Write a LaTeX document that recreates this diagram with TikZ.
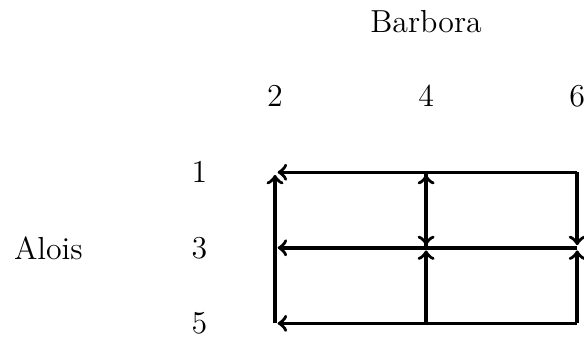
\documentclass[tikz,border=0pt,12pt]{standalone}
\usepackage{amsmath}
\usepackage{tikz}
\usetikzlibrary{arrows}

\begin{document}
\begin{tikzpicture}[scale=1]
\useasboundingbox (-1.64,-2.19) rectangle (6.09,2.28);
\node (barbora) at (4,2) {Barbora};
\node (alois) at (-1,-1) {Alois};
\foreach \c in {2,4,6}{
\node (c\c) at (\c,1) {\(\c\)};
}
\foreach \r/\y in {1/0,3/-1,5/-2}{
\node (r\r) at (1,\y) {\(\r\)};
\foreach \c in {2,4,6}{
\coordinate (p\c\r) at (\c,\y);
}
}
\tikzset{move/.style={->,line width=1.3pt,shorten >=1pt}}
\draw[move] (p61) -- (p21);
\draw[move] (p63) -- (p23);
\draw[move] (p65) -- (p25);
\draw[move] (p25) -- (p21);
\draw[move] (p43) -- (p41);
\draw[move] (p41) -- (p43);
\draw[move] (p45) -- (p43);
\draw[move] (p61) -- (p63);
\draw[move] (p65) -- (p63);
\end{tikzpicture}
\end{document}
